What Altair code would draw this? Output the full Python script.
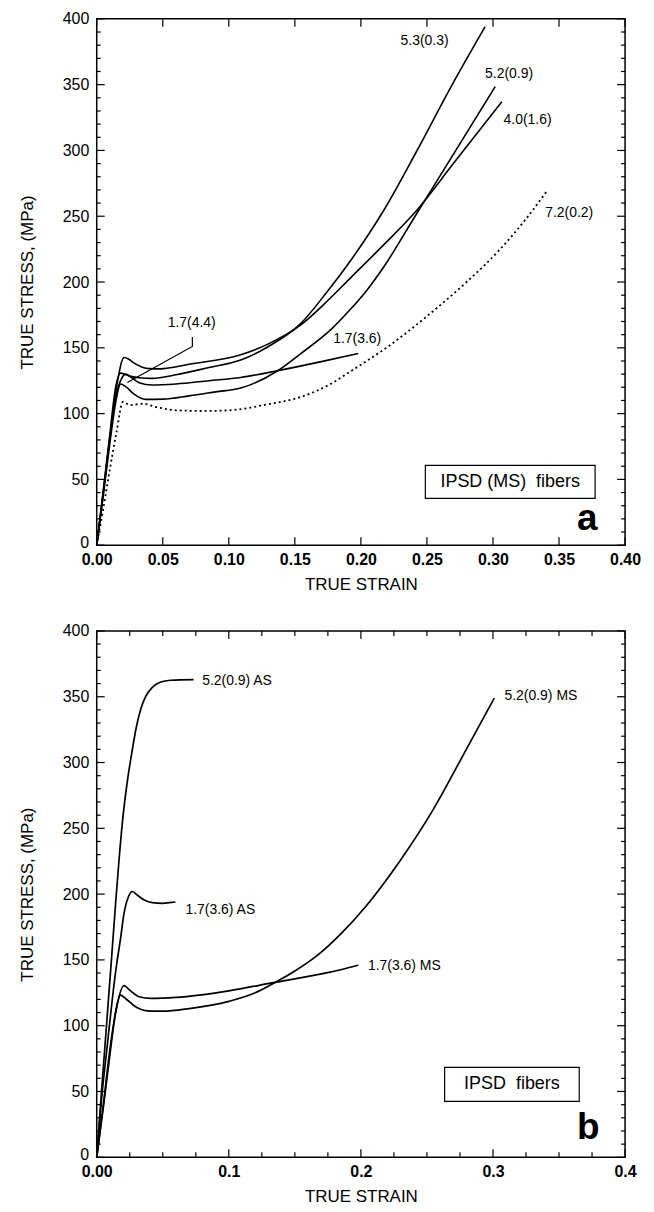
import altair as alt
import pandas as pd

# ---------------- Panel a : IPSD (MS) fibers ----------------
a53_x = [0, 0.005, 0.010, 0.014, 0.018, 0.021, 0.025, 0.032, 0.042, 0.060, 0.085, 0.109, 0.130, 0.154, 0.174, 0.192, 0.217, 0.242, 0.268, 0.294]
a53_y = [0, 42, 85, 118, 130.8, 130, 128.5, 127.3, 126.8, 129.5, 135, 140.7, 151, 168, 192, 216, 254, 299, 348, 394]

a40_x = [0, 0.005, 0.010, 0.015, 0.0207, 0.024, 0.028, 0.034, 0.040, 0.048, 0.070, 0.109, 0.130, 0.154, 0.174, 0.192, 0.217, 0.241, 0.270, 0.3067]
a40_y = [0, 40, 82, 120, 142.6, 141.5, 138.5, 135.5, 134.2, 134, 137.5, 144.7, 153, 167, 185, 203, 228, 253, 290, 337]

a52_x = [0, 0.005, 0.010, 0.015, 0.018, 0.022, 0.028, 0.037, 0.050, 0.070, 0.090, 0.109, 0.137, 0.155, 0.177, 0.190, 0.2047, 0.217, 0.241, 0.270, 0.3017]
a52_y = [0, 38, 78, 112, 122.5, 120.5, 115, 110.8, 111, 113.5, 116.5, 119.4, 132.6, 146, 163.6, 177, 194, 211, 250, 297, 348.5]

a17_x = [0, 0.005, 0.010, 0.015, 0.019, 0.022, 0.026, 0.032, 0.042, 0.060, 0.085, 0.109, 0.137, 0.170, 0.198]
a17_y = [0, 40, 82, 115, 127, 130, 127.5, 123.5, 121.7, 122.5, 125, 127.5, 132.6, 139.5, 145.7]

a72_x = [0, 0.005, 0.010, 0.015, 0.0199, 0.025, 0.030, 0.035, 0.045, 0.061, 0.080, 0.100, 0.129, 0.154, 0.177, 0.192, 0.222, 0.250, 0.280, 0.3055, 0.325, 0.3407]
a72_y = [0, 28, 58, 86, 109, 106.5, 107, 107.5, 105, 102.5, 102, 102.5, 107, 112.5, 122.5, 132, 152, 174, 200, 225, 248, 269]

# leader line of the 1.7(4.4) label
a44_lead_x = [0.0724, 0.0724, 0.0232]
a44_lead_y = [158.3, 151.0, 123.7]

a_labels = ["5.3(0.3)", "5.2(0.9)", "4.0(1.6)", "7.2(0.2)", "1.7(3.6)", "1.7(4.4)"]
a_label_x = [0.230, 0.294, 0.308, 0.3395, 0.179, 0.0537]
a_label_y = [383, 358, 323, 252.7, 157, 168.5]

a_box_text = "IPSD (MS) \u00a0fibers"
a_box = [0.2488, 0.3773, 35.6, 60.6]
a_letter = "a"
a_letter_pos = [0.3637, 11.4]

# ---------------- Panel b : IPSD fibers ----------------
b52ms_x = [0, 0.005, 0.010, 0.014, 0.018, 0.022, 0.030, 0.041, 0.050, 0.070, 0.100, 0.120, 0.1326, 0.150, 0.1665, 0.185, 0.204, 0.2294, 0.2546, 0.2798, 0.301]
b52ms_y = [0, 38, 78, 108, 123.2, 120.5, 114, 111, 111, 113, 118.5, 125, 131.5, 141.5, 153, 170, 191, 225, 264, 310, 349]

b17ms_x = [0, 0.005, 0.010, 0.015, 0.0206, 0.025, 0.032, 0.041, 0.060, 0.100, 0.1326, 0.1766, 0.198]
b17ms_y = [0, 40, 82, 114, 130.5, 127, 122, 120.7, 121.5, 126.5, 132.5, 140.7, 146]

b52as_x = [0, 0.004, 0.008, 0.0115, 0.0143, 0.0168, 0.020, 0.0235, 0.027, 0.030, 0.0335, 0.037, 0.042, 0.048, 0.056, 0.0733]
b52as_y = [0, 55, 108, 155, 193, 225, 260, 288, 310, 327, 341, 350, 357, 361, 362.5, 363]

b17as_x = [0, 0.004, 0.008, 0.012, 0.015, 0.018, 0.0206, 0.024, 0.027, 0.031, 0.036, 0.042, 0.050, 0.055, 0.0596]
b17as_y = [0, 48, 85, 122, 146, 166, 185, 198, 202, 199, 195.5, 193.5, 193, 193.5, 194]

b_labels = ["5.2(0.9) AS", "1.7(3.6) AS", "5.2(0.9) MS", "1.7(3.6) MS"]
b_label_x = [0.0798, 0.0672, 0.3087, 0.2053]
b_label_y = [361.7, 188.2, 350.3, 145.7]

b_box_text = "IPSD \u00a0fibers"
b_box = [0.2634, 0.3653, 42.5, 68.3]
b_letter = "b"
b_letter_pos = [0.3637, 13.7]

# ---------------- axes / ticks ----------------
y_major = [0, 50, 100, 150, 200, 250, 300, 350, 400]
y_minor = [v for v in range(10, 400, 10) if v % 50 != 0]
a_x_major = [0, 0.05, 0.10, 0.15, 0.20, 0.25, 0.30, 0.35, 0.40]
b_x_major = [0, 0.1, 0.2, 0.3, 0.4]
b_x_minor = [0.025, 0.05, 0.075, 0.125, 0.15, 0.175, 0.225, 0.25, 0.275, 0.325, 0.35, 0.375]

FONT = "Liberation Sans"
W, H = 530, 528

xs = alt.Scale(domain=[0, 0.4], nice=False, zero=False)
ys = alt.Scale(domain=[0, 400], nice=False, zero=False)


def series_df(series):
    rows = []
    for name, (xv, yv) in series.items():
        for i, (x, y) in enumerate(zip(xv, yv)):
            rows.append({"s": name, "x": x, "y": y, "i": i})
    return pd.DataFrame(rows)


Y_AXIS = alt.Axis(values=y_major, format="d", ticks=False, domain=False, grid=False,
                  labelFont=FONT, labelFontSize=16, labelColor="black", labelPadding=8,
                  labelOffset={"expr": "datum.value == 0 ? -3 : 0"},
                  title="TRUE STRESS, (MPa)", titleFont=FONT, titleFontSize=17,
                  titleFontWeight="normal", titleColor="black", titlePadding=26)


def x_axis(values, label_expr):
    return alt.Axis(values=values, labelExpr=label_expr, ticks=False, domain=False, grid=False,
                    labelFont=FONT, labelFontSize=16, labelFontWeight="bold", labelColor="black",
                    labelPadding=6, labelFlush=False, labelOverlap=False,
                    title="TRUE STRAIN", titleFont=FONT, titleFontSize=17,
                    titleFontWeight="normal", titleColor="black", titlePadding=9)


def build_panel(XA, solid_df, dotted_df, lead_df, x_major, x_minor,
                labels, lx, ly, box, box_text, letter, letter_pos, lw):
    X = lambda f: alt.X(f, scale=xs, axis=XA)
    Y = lambda f: alt.Y(f, scale=ys, axis=Y_AXIS)
    layers = []
    layers.append(alt.Chart(solid_df).mark_line(color="black", strokeWidth=lw, interpolate="monotone").encode(
        x=X("x:Q"), y=Y("y:Q"), detail="s:N", order="i:Q"))
    if dotted_df is not None:
        layers.append(alt.Chart(dotted_df).mark_line(color="black", strokeWidth=1.8, strokeDash=[2, 3],
                                                     interpolate="monotone").encode(
            x=X("x:Q"), y=Y("y:Q"), order="i:Q"))
    if lead_df is not None:
        layers.append(alt.Chart(lead_df).mark_line(color="black", strokeWidth=1.2).encode(
            x=X("x:Q"), y=Y("y:Q"), order="i:Q"))

    def yt(vals, ln):
        d = pd.DataFrame({"y": vals})
        return [
            alt.Chart(d).mark_rule(color="black", strokeWidth=1.2).encode(
                y=Y("y:Q"), x=alt.value(0), x2=alt.value(ln)),
            alt.Chart(d).mark_rule(color="black", strokeWidth=1.2).encode(
                y=Y("y:Q"), x=alt.value(W), x2=alt.value(W - ln)),
        ]

    def xt(vals, ln):
        d = pd.DataFrame({"x": vals})
        return [
            alt.Chart(d).mark_rule(color="black", strokeWidth=1.2).encode(
                x=X("x:Q"), y=alt.value(H), y2=alt.value(H - ln)),
            alt.Chart(d).mark_rule(color="black", strokeWidth=1.2).encode(
                x=X("x:Q"), y=alt.value(0), y2=alt.value(ln)),
        ]

    layers += yt(y_major, 8)
    layers += yt(y_minor, 4)
    layers += xt(x_major, 8)
    if x_minor:
        layers += xt(x_minor, 5)

    td = pd.DataFrame({"t": labels, "x": lx, "y": ly})
    layers.append(alt.Chart(td).mark_text(font=FONT, fontSize=14, align="left", baseline="middle",
                                          color="black").encode(x=X("x:Q"), y=Y("y:Q"), text="t:N"))

    bd = pd.DataFrame({"x": [box[0]], "x2": [box[1]], "y": [box[2]], "y2": [box[3]]})
    layers.append(alt.Chart(bd).mark_rect(fill="white", stroke="black", strokeWidth=1.2).encode(
        x=X("x:Q"), x2="x2:Q", y=Y("y:Q"), y2="y2:Q"))
    bt = pd.DataFrame({"t": [box_text], "x": [(box[0] + box[1]) / 2], "y": [(box[2] + box[3]) / 2]})
    layers.append(alt.Chart(bt).mark_text(font=FONT, fontSize=18, align="center", baseline="middle",
                                          color="black").encode(x=X("x:Q"), y=Y("y:Q"), text="t:N"))
    ld = pd.DataFrame({"t": [letter], "x": [letter_pos[0]], "y": [letter_pos[1]]})
    layers.append(alt.Chart(ld).mark_text(font=FONT, fontSize=37, fontWeight="bold", align="left",
                                          baseline="alphabetic", color="black").encode(
        x=X("x:Q"), y=Y("y:Q"), text="t:N"))
    return alt.layer(*layers).properties(width=W, height=H)


XA_A = x_axis(a_x_major, "format(datum.value, '.2f')")
XA_B = x_axis(b_x_major, "datum.value == 0 ? '0.00' : format(datum.value, '.1f')")

panel_a = build_panel(
    XA_A,
    series_df({"5.3(0.3)": (a53_x, a53_y), "4.0(1.6)": (a40_x, a40_y),
               "5.2(0.9)": (a52_x, a52_y), "1.7(3.6)": (a17_x, a17_y)}),
    series_df({"7.2(0.2)": (a72_x, a72_y)}),
    series_df({"lead": (a44_lead_x, a44_lead_y)}),
    a_x_major, None, a_labels, a_label_x, a_label_y, a_box, a_box_text, a_letter, a_letter_pos, 1.6)

panel_b = build_panel(
    XA_B,
    series_df({"5.2(0.9) MS": (b52ms_x, b52ms_y), "1.7(3.6) MS": (b17ms_x, b17ms_y),
               "5.2(0.9) AS": (b52as_x, b52as_y), "1.7(3.6) AS": (b17as_x, b17as_y)}),
    None, None,
    b_x_major, b_x_minor, b_labels, b_label_x, b_label_y, b_box, b_box_text, b_letter, b_letter_pos, 1.7)

chart = alt.vconcat(panel_a, panel_b, spacing=29).properties(
    padding={"left": 9, "top": 0, "right": 4, "bottom": 4},
    background="white",
).configure_view(stroke="black", strokeWidth=1.5)

chart.save("out.html", embed_options={"renderer": "svg", "actions": False})
